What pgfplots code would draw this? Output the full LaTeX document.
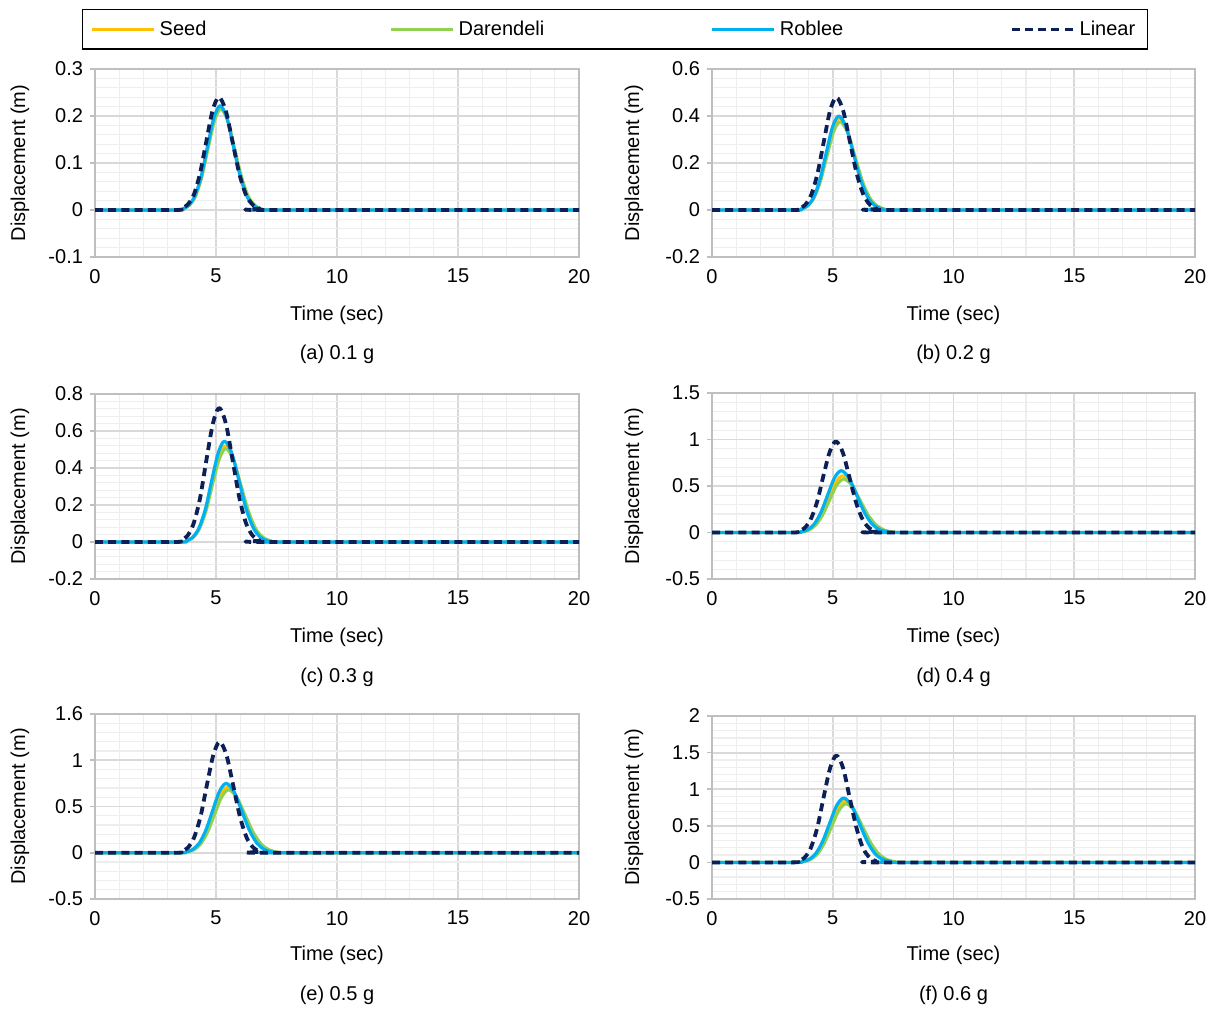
\documentclass[border=0pt]{standalone}
\usepackage{fontspec}
\setmainfont{Liberation Sans}
\usepackage{pgfplots}
\pgfplotsset{compat=1.18}
\definecolor{seedc}{HTML}{FFC000}
\definecolor{darc}{HTML}{92D050}
\definecolor{robc}{HTML}{00B0F0}
\definecolor{linc}{HTML}{0C1F56}
\definecolor{gridmaj}{HTML}{D9D9D9}
\definecolor{gridmin}{HTML}{EEEEEE}
\definecolor{axisc}{HTML}{BFBFBF}
\newcommand\fs{\fontsize{10}{12}\selectfont}
\pgfplotsset{
  panel/.style={
    scale only axis, clip mode=individual, xmin=0, xmax=20, xtick={0,5,10,15,20}, xticklabels={0,5,10,15,20},
    minor x tick num=4, minor y tick num=4,
    grid=both, major grid style={draw=gridmaj, line width=0.9pt},
    minor grid style={draw=gridmin, line width=0.6pt},
    axis line style={draw=axisc, line width=0.8pt},
    tick align=outside, xtick pos=bottom, ytick pos=left,
    major tick length=2.5pt, minor tick length=0pt,
    ytick style={draw=axisc, line width=0.8pt}, xtick style={draw=none},
    ticklabel style={font=\fs},
    xlabel={Time (sec)}, ylabel={Displacement (m)},
    label style={font=\fs},
    xlabel style={at={(axis description cs:0.5,0)}, anchor=center, yshift=-29pt},
  },
  leftcol/.style={width=242pt, ylabel style={at={(axis description cs:-0.155,0.5)}, anchor=center}},
  rightcol/.style={width=241.5pt, ylabel style={at={(axis description cs:-0.1615,0.5)}, anchor=center}},
  seedst/.style={seedc, line width=1.5pt, smooth, line join=round},
  darst/.style={darc, line width=1.5pt, smooth, line join=round},
  robst/.style={robc, line width=1.6pt, smooth, line join=round},
  linst/.style={linc, line width=1.9pt, dash pattern=on 4pt off 2.6pt, smooth, line join=round},
}
\begin{document}
\begin{tikzpicture}
\useasboundingbox (0,0) rectangle (610pt,-505pt);
% (a)
\begin{axis}[panel, leftcol, height=94pt, at={(47.5pt,-128.5pt)}, anchor=south west,
  ymin=-0.1, ymax=0.3, ytick={-0.1,0,0.1,0.2,0.3}, yticklabels={-0.1,0,0.1,0.2,0.3},
  legend columns=4,
  legend style={at={(axis description cs:-0.0269,1.3191)}, anchor=north west, draw=black, line width=0.7pt,
    inner xsep=4pt, inner ysep=3.5pt, font=\fs, nodes={inner sep=2pt},
    /tikz/every even column/.style={column sep=0pt}, /tikz/every odd column/.style={column sep=0pt}},
  legend cell align=left,
  legend image code/.code={\draw[#1] (0pt,0pt) -- (31pt,0pt);}]
\addplot[seedst] coordinates {(0,0)(3.37,0)(3.63,0.002)(3.89,0.010)(4.15,0.029)(4.41,0.071)(4.67,0.132)(4.93,0.192)(5.19,0.218)(5.47,0.192)(5.75,0.132)(6.03,0.071)(6.31,0.029)(6.59,0.010)(6.87,0.002)(7.15,0)(20,0)};
\addplot[darst] coordinates {(0,0)(3.35,0)(3.61,0.002)(3.88,0.009)(4.14,0.029)(4.41,0.070)(4.67,0.131)(4.94,0.190)(5.20,0.215)(5.49,0.190)(5.77,0.131)(6.06,0.070)(6.34,0.029)(6.63,0.009)(6.91,0.002)(7.20,0)(20,0)};
\addplot[robst] coordinates {(0,0)(3.35,0)(3.61,0.002)(3.87,0.010)(4.13,0.030)(4.39,0.072)(4.65,0.135)(4.91,0.196)(5.17,0.222)(5.45,0.196)(5.72,0.135)(6.00,0.072)(6.27,0.030)(6.55,0.010)(6.82,0.002)(7.10,0)(20,0)};
\addplot[linst] coordinates {(0,0)(3.30,0)(3.56,0.003)(3.82,0.011)(4.08,0.032)(4.34,0.078)(4.60,0.146)(4.86,0.212)(5.12,0.24)(5.40,0.212)(5.68,0.146)(5.96,0.078)(6.24,0.032)(6.52,0.011)(6.80,0.003)(7.08,0)(20,0)};
\legend{\makebox[113pt][l]{Seed},\makebox[124pt][l]{Darendeli},\makebox[113pt][l]{Roblee},Linear}
\node[font=\fs] at (axis description cs:0.5,0) [yshift=-48.5pt] {(a) 0.1 g};
\end{axis}
% (b)
\begin{axis}[panel, rightcol, height=94pt, at={(356pt,-128.5pt)}, anchor=south west,
  ymin=-0.2, ymax=0.6, ytick={-0.2,0,0.2,0.4,0.6}, yticklabels={-0.2,0,0.2,0.4,0.6}]
\addplot[seedst] coordinates {(0,0)(3.43,0)(3.69,0.004)(3.96,0.017)(4.22,0.053)(4.49,0.127)(4.75,0.237)(5.02,0.344)(5.28,0.39)(5.59,0.344)(5.89,0.237)(6.20,0.127)(6.50,0.053)(6.81,0.017)(7.11,0.004)(7.42,0)(20,0)};
\addplot[darst] coordinates {(0,0)(3.41,0)(3.68,0.004)(3.95,0.017)(4.22,0.051)(4.49,0.122)(4.76,0.228)(5.03,0.331)(5.30,0.375)(5.61,0.331)(5.92,0.228)(6.23,0.122)(6.54,0.051)(6.85,0.017)(7.16,0.004)(7.47,0)(20,0)};
\addplot[robst] coordinates {(0,0)(3.43,0)(3.69,0.004)(3.95,0.018)(4.21,0.054)(4.47,0.130)(4.73,0.243)(4.99,0.353)(5.25,0.40)(5.55,0.353)(5.85,0.243)(6.15,0.130)(6.45,0.054)(6.75,0.018)(7.05,0.004)(7.35,0)(20,0)};
\addplot[linst] coordinates {(0,0)(3.33,0)(3.59,0.005)(3.85,0.021)(4.11,0.065)(4.37,0.156)(4.63,0.291)(4.89,0.423)(5.15,0.48)(5.43,0.423)(5.71,0.291)(5.99,0.156)(6.27,0.065)(6.55,0.021)(6.83,0.005)(7.11,0)(20,0)};
\node[font=\fs] at (axis description cs:0.5,0) [yshift=-48.5pt] {(b) 0.2 g};
\end{axis}
% (c)
\begin{axis}[panel, leftcol, height=92.5pt, at={(47.5pt,-289.5pt)}, anchor=south west,
  ymin=-0.2, ymax=0.8, ytick={-0.2,0,0.2,0.4,0.6,0.8}, yticklabels={-0.2,0,0.2,0.4,0.6,0.8}]
\addplot[seedst] coordinates {(0,0)(3.49,0)(3.76,0.006)(4.03,0.023)(4.30,0.070)(4.57,0.169)(4.84,0.316)(5.11,0.459)(5.38,0.52)(5.69,0.459)(6.00,0.316)(6.31,0.169)(6.62,0.070)(6.93,0.023)(7.24,0.006)(7.55,0)(20,0)};
\addplot[darst] coordinates {(0,0)(3.48,0)(3.75,0.006)(4.03,0.022)(4.30,0.068)(4.58,0.164)(4.85,0.307)(5.13,0.445)(5.40,0.505)(5.72,0.445)(6.03,0.307)(6.35,0.164)(6.66,0.068)(6.98,0.022)(7.29,0.006)(7.61,0)(20,0)};
\addplot[robst] coordinates {(0,0)(3.50,0)(3.76,0.006)(4.03,0.024)(4.29,0.074)(4.56,0.177)(4.82,0.331)(5.09,0.481)(5.35,0.545)(5.65,0.481)(5.95,0.331)(6.25,0.177)(6.55,0.074)(6.85,0.024)(7.15,0.006)(7.45,0)(20,0)};
\addplot[linst] coordinates {(0,0)(3.28,0)(3.54,0.008)(3.81,0.032)(4.07,0.098)(4.34,0.236)(4.60,0.440)(4.87,0.639)(5.13,0.725)(5.41,0.639)(5.69,0.440)(5.97,0.236)(6.25,0.098)(6.53,0.032)(6.81,0.008)(7.09,0)(20,0)};
\node[font=\fs] at (axis description cs:0.5,0) [yshift=-49pt] {(c) 0.3 g};
\end{axis}
% (d)
\begin{axis}[panel, rightcol, height=93pt, at={(356pt,-289.5pt)}, anchor=south west,
  ymin=-0.5, ymax=1.5, ytick={-0.5,0,0.5,1,1.5}, yticklabels={-0.5,0,0.5,1,1.5}]
\addplot[seedst] coordinates {(0,0)(3.41,0)(3.69,0.007)(3.98,0.027)(4.26,0.082)(4.55,0.198)(4.83,0.370)(5.12,0.538)(5.40,0.61)(5.73,0.538)(6.06,0.370)(6.39,0.198)(6.72,0.082)(7.05,0.027)(7.38,0.007)(7.71,0)(20,0)};
\addplot[darst] coordinates {(0,0)(3.42,0)(3.71,0.006)(4.00,0.025)(4.29,0.078)(4.58,0.187)(4.87,0.349)(5.16,0.507)(5.45,0.575)(5.79,0.507)(6.13,0.349)(6.47,0.187)(6.81,0.078)(7.15,0.025)(7.49,0.006)(7.83,0)(20,0)};
\addplot[robst] coordinates {(0,0)(3.39,0)(3.67,0.007)(3.95,0.029)(4.23,0.090)(4.51,0.216)(4.79,0.404)(5.07,0.587)(5.35,0.665)(5.67,0.587)(5.99,0.404)(6.31,0.216)(6.63,0.090)(6.95,0.029)(7.27,0.007)(7.59,0)(20,0)};
\addplot[linst] coordinates {(0,0)(3.28,0)(3.54,0.011)(3.81,0.043)(4.07,0.132)(4.34,0.319)(4.60,0.595)(4.87,0.864)(5.13,0.98)(5.41,0.864)(5.69,0.595)(5.97,0.319)(6.25,0.132)(6.53,0.043)(6.81,0.011)(7.09,0)(20,0)};
\node[font=\fs] at (axis description cs:0.5,0) [yshift=-49pt] {(d) 0.4 g};
\end{axis}
% (e)
\begin{axis}[panel, leftcol, height=92.5pt, at={(47.5pt,-449.5pt)}, anchor=south west,
  xlabel style={yshift=1pt},
  ymin=-0.5, ymax=1.5, ytick={-0.5,0,0.5,1,1.5}, yticklabels={-0.5,0,0.5,1,1.6}]
\addplot[seedst] coordinates {(0,0)(3.48,0)(3.76,0.008)(4.05,0.031)(4.33,0.096)(4.62,0.231)(4.90,0.431)(5.19,0.626)(5.47,0.71)(5.80,0.626)(6.13,0.431)(6.46,0.231)(6.79,0.096)(7.12,0.031)(7.45,0.008)(7.78,0)(20,0)};
\addplot[darst] coordinates {(0,0)(3.49,0)(3.78,0.007)(4.07,0.030)(4.36,0.092)(4.65,0.221)(4.94,0.413)(5.23,0.600)(5.52,0.68)(5.86,0.600)(6.20,0.413)(6.54,0.221)(6.88,0.092)(7.22,0.030)(7.56,0.007)(7.90,0)(20,0)};
\addplot[robst] coordinates {(0,0)(3.46,0)(3.74,0.008)(4.02,0.033)(4.30,0.101)(4.58,0.244)(4.86,0.455)(5.14,0.662)(5.42,0.75)(5.74,0.662)(6.06,0.455)(6.38,0.244)(6.70,0.101)(7.02,0.033)(7.34,0.008)(7.66,0)(20,0)};
\addplot[linst] coordinates {(0,0)(3.30,0)(3.56,0.013)(3.83,0.053)(4.09,0.162)(4.36,0.390)(4.62,0.728)(4.89,1.058)(5.15,1.2)(5.43,1.058)(5.71,0.728)(5.99,0.390)(6.27,0.162)(6.55,0.053)(6.83,0.013)(7.11,0)(20,0)};
\node[font=\fs] at (axis description cs:0.5,0) [yshift=-48pt] {(e) 0.5 g};
\end{axis}
% (f)
\begin{axis}[panel, rightcol, height=91.5pt, at={(356pt,-449.5pt)}, anchor=south west,
  xlabel style={yshift=1pt},
  ymin=-0.5, ymax=2, ytick={-0.5,0,0.5,1,1.5,2}, yticklabels={-0.5,0,0.5,1,1.5,2}]
\addplot[seedst] coordinates {(0,0)(3.44,0)(3.73,0.009)(4.03,0.037)(4.32,0.113)(4.62,0.273)(4.91,0.510)(5.21,0.741)(5.50,0.84)(5.84,0.741)(6.17,0.510)(6.51,0.273)(6.84,0.113)(7.18,0.037)(7.51,0.009)(7.85,0)(20,0)};
\addplot[darst] coordinates {(0,0)(3.45,0)(3.75,0.009)(4.05,0.035)(4.35,0.108)(4.65,0.260)(4.95,0.486)(5.25,0.706)(5.55,0.80)(5.90,0.706)(6.24,0.486)(6.59,0.260)(6.93,0.108)(7.28,0.035)(7.62,0.009)(7.97,0)(20,0)};
\addplot[robst] coordinates {(0,0)(3.42,0)(3.71,0.010)(4.00,0.039)(4.29,0.119)(4.58,0.286)(4.87,0.534)(5.16,0.776)(5.45,0.88)(5.78,0.776)(6.10,0.534)(6.43,0.286)(6.75,0.119)(7.08,0.039)(7.40,0.010)(7.73,0)(20,0)};
\addplot[linst] coordinates {(0,0)(3.30,0)(3.56,0.016)(3.83,0.064)(4.09,0.197)(4.36,0.475)(4.62,0.886)(4.89,1.288)(5.15,1.46)(5.43,1.288)(5.70,0.886)(5.98,0.475)(6.25,0.197)(6.53,0.064)(6.80,0.016)(7.08,0)(20,0)};
\node[font=\fs] at (axis description cs:0.5,0) [yshift=-48pt] {(f) 0.6 g};
\end{axis}
\end{tikzpicture}
\end{document}
